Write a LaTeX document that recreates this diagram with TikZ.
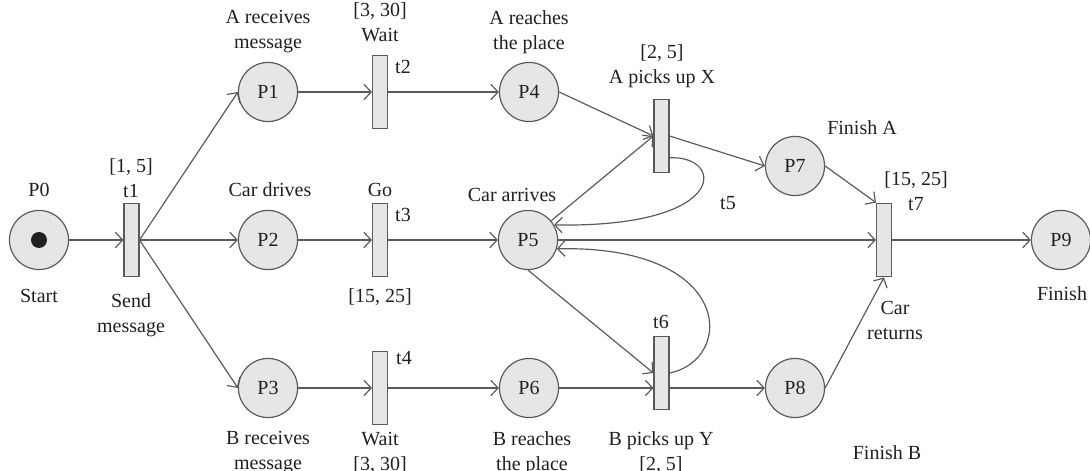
\documentclass[tikz,border=0pt]{standalone}
\usepackage{fontspec}
\setmainfont{Liberation Serif}
\usetikzlibrary{arrows.meta}

\definecolor{fillc}{RGB}{230,230,232}
\definecolor{linec}{RGB}{90,90,90}
\definecolor{textc}{RGB}{35,31,32}

\tikzset{
  place/.style={circle,draw=linec,fill=fillc,line width=0.65pt,minimum size=32.5pt,inner sep=0pt,text=textc},
  trans/.style={rectangle,draw=linec,fill=fillc,line width=0.65pt,minimum width=8.2pt,minimum height=40.5pt,inner sep=0pt},
  arc/.style={draw=linec,line width=0.65pt,-{Straight Barb[length=4pt,width=8.5pt]}},
  txt/.style={text=textc,align=center,inner sep=0pt}
}

\begin{document}
\begin{tikzpicture}[x=0.55pt,y=-0.55pt,font=\fontsize{11}{13.75}\selectfont] % 1 unit = 1 px, y downwards
\useasboundingbox (0,0) rectangle (1090,471);

% places
\node[place] (P0) at (39,240) {};
\fill[textc] (P0.center) circle (4.4pt);
\foreach \n/\x/\y in {1/268/92,2/268/240,3/268/388,4/529/92,5/528/240,6/529/388,7/795/166,8/795/388,9/1061/240} {
\node[place] (P\n) at (\x,\y) {P\n};
}

% transitions
\foreach \n/\x/\y in {1/131.5/240,2/380/92,3/380/240,4/380/388,5/661.5/136,6/661.5/373,7/884/240} {
\node[trans] (t\n) at (\x,\y) {};
}

% labels
\node[txt] (lP0) at (39,190) {P0};
\node[txt] (sP0) at (39,296) {Start};
\node[txt] (lt1) at (131,178) {[1, 5]\\t1};
\node[txt] (st1) at (131,315) {Send\\message};
\node[txt] (lP1) at (268,32) {A receives\\message};
\node[txt] (lP2) at (270,190) {Car drives};
\node[txt] (lP3) at (268,453) {B receives\\message};
\node[txt] (lt2) at (380,22) {[3, 30]\\Wait};
\node[txt] (nt2) at (403,67) {t2};
\node[txt] (lt3) at (380,190) {Go};
\node[txt] (nt3) at (403,215) {t3};
\node[txt] (st3) at (380,297) {[15, 25]};
\node[txt] (nt4) at (404,358) {t4};
\node[txt] (lt4) at (380,453) {Wait\\{[3, 30]}};
\node[txt] (lP4) at (529,32) {A reaches\\the place};
\node[txt] (lP5) at (512,195) {Car arrives};
\node[txt] (lP6) at (532,453) {B reaches\\the place};
\node[txt] (lt5) at (662,66) {[2, 5]\\A picks up X};
\node[txt] (nt5) at (728,203) {t5};
\node[txt] (nt6) at (661,322) {t6};
\node[txt] (lt6) at (661,453) {B picks up Y\\{[2, 5]}};
\node[txt] (lP7) at (862,128) {Finish A};
\node[txt] (lP8) at (887,453) {Finish B};
\node[txt] (lt7) at (916,191) {[15, 25]\\t7};
\node[txt] (st7) at (895,320) {Car\\returns};
\node[txt] (lP9) at (1062,294) {Finish};

% arcs
\draw[arc] (P0) -- (t1);
\draw[arc] (t1.east) -- (P1.west);
\draw[arc] (t1) -- (P2);
\draw[arc] (t1.east) -- (P3.west);
\draw[arc] (P1) -- (t2);
\draw[arc] (t2) -- (P4);
\draw[arc] (P2) -- (t3);
\draw[arc] (t3) -- (P5);
\draw[arc] (P3) -- (t4);
\draw[arc] (t4) -- (P6);
\draw[arc] (P4.east) -- (t5.west);
\draw[arc] (P5) -- (t5.west);
\draw[arc] (P5.south) -- (t6.west);
\draw[arc] (P5) -- (t7);
\draw[arc] (P6) -- (t6.west |- P6);
\draw[arc] (t6.east |- P8) -- (P8);
\draw[arc] (t5.east) -- (P7.west);
\draw[arc] (P7.east) -- (t7.north west);
\draw[arc] (P8.east) -- (t7.south);
\draw[arc] (t7) -- (P9);
% loops back to P5
\draw[arc] ([yshift=-12pt]t5.east) .. controls (725,155) and (730,228) .. (P5.30);
\draw[arc] (t6.east) .. controls (735,360) and (735,245) .. (P5.-17);
\end{tikzpicture}
\end{document}
